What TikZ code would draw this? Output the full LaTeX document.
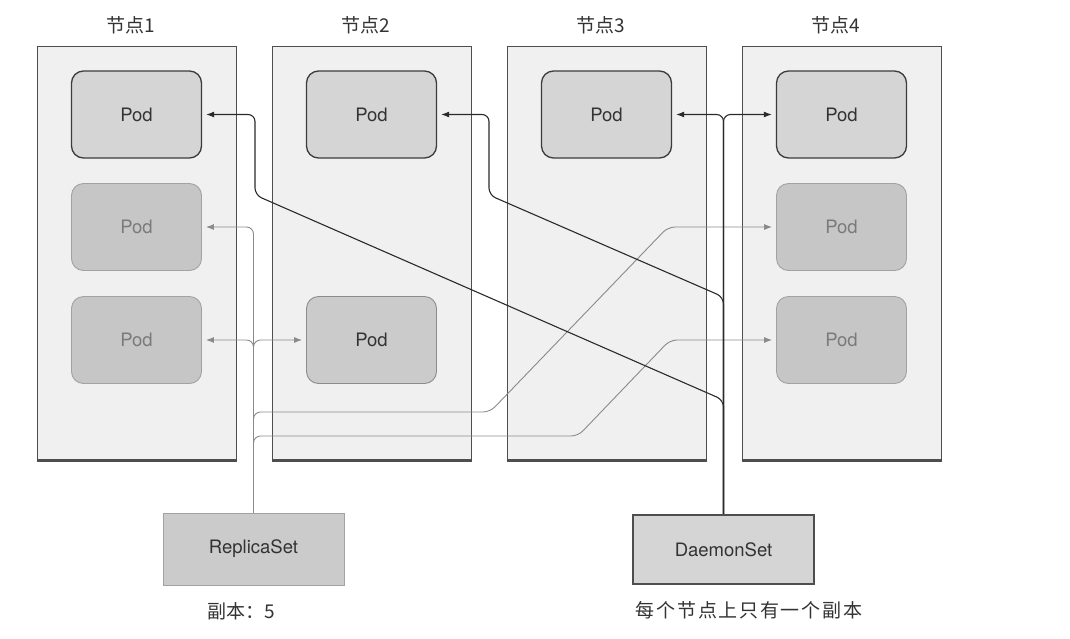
\documentclass[tikz,border=0pt]{standalone}
\usepackage{fontspec}
\setmainfont{TeX Gyre Heros}
\newfontfamily\cjk{Noto Sans CJK SC}
\newfontfamily\cjkwide[LetterSpace=9]{Noto Sans CJK SC}
\usepackage{tikz}
\usetikzlibrary{arrows.meta}
\definecolor{boxfill}{HTML}{F0F0F0}
\definecolor{boxdraw}{HTML}{4E4E4E}
\definecolor{dspodfill}{HTML}{D5D5D5}
\definecolor{dspoddraw}{HTML}{3C3C3C}
\definecolor{rspodfill}{HTML}{CBCBCB}
\definecolor{rspoddraw}{HTML}{8C8C8C}
\definecolor{grainfill}{HTML}{C6C6C6}
\definecolor{graindraw}{HTML}{A2A2A2}
\definecolor{graintext}{HTML}{7A7A7A}
\definecolor{dsline}{HTML}{2A2A2A}
\definecolor{rsline}{HTML}{8A8A8A}
\definecolor{labeltext}{HTML}{333333}

\begin{document}
\begin{tikzpicture}[x=1pt,y=-1pt,-{Latex[length=8pt,width=6pt]},
      every node/.append style={font=\fontsize{18.5}{20}\selectfont,text=labeltext},
      dsline/.style={color=dsline,line width=1.1pt,rounded corners=7pt,shorten >=4pt},
      rsline/.style={color=rsline,line width=0.9pt,rounded corners=7pt,shorten >=4pt}]
    \tikzstyle{nodebox} = [draw=boxdraw,fill=boxfill,line width=1pt,minimum width=199pt,minimum height=414pt]
    \tikzstyle{nodename} = [font=\cjk\fontsize{19}{22}\selectfont]
    \tikzstyle{dspod} = [draw=dspoddraw,fill=dspodfill,line width=1.3pt,rounded corners=12pt,minimum width=130pt,minimum height=87pt]
    \tikzstyle{rspod} = [draw=rspoddraw,fill=rspodfill,line width=0.9pt,rounded corners=12pt,minimum width=130pt,minimum height=87pt]
    \tikzstyle{grainpod} = [draw=graindraw,fill=grainfill,line width=0.9pt,rounded corners=12pt,minimum width=130pt,minimum height=87pt,text=graintext]
    \tikzstyle{bottomedge} = [-,draw=boxdraw,line width=3pt]
    \useasboundingbox (0,0) rectangle (1070,638);

    \node (n1) [nodebox] at (136.5,253) {};
    \node (n2) [nodebox] at (371.5,253) {};
    \node (n3) [nodebox] at (606.5,253) {};
    \node (n4) [nodebox] at (841.5,253) {};
    \draw [bottomedge] (n1.south west) -- (n1.south east);
    \draw [bottomedge] (n2.south west) -- (n2.south east);
    \draw [bottomedge] (n3.south west) -- (n3.south east);
    \draw [bottomedge] (n4.south west) -- (n4.south east);
    \node (name1) [nodename] at (131,25) {节点1};
    \node (name2) [nodename] at (366,25) {节点2};
    \node (name3) [nodename] at (601,25) {节点3};
    \node (name4) [nodename] at (836,25) {节点4};

    \node (d1) [dspod] at (136.5,114.5) {Pod};
    \node (d2) [dspod] at (371.5,114.5) {Pod};
    \node (d3) [dspod] at (606.5,114.5) {Pod};
    \node (d4) [dspod] at (841.5,114.5) {Pod};
    \node (r1) [grainpod] at (136.5,227) {Pod};
    \node (r2) [grainpod] at (136.5,340) {Pod};
    \node (r3) [rspod] at (371.5,340) {Pod};
    \node (r4) [grainpod] at (841.5,227) {Pod};
    \node (r5) [grainpod] at (841.5,340) {Pod};

    \node (rs) [draw=graindraw,fill=rspodfill,line width=0.8pt,minimum width=181pt,minimum height=72pt] at (253.5,549) {ReplicaSet};
    \node (ds) [draw=boxdraw,fill=dspodfill,line width=2.4pt,minimum width=181pt,minimum height=69pt] at (723.5,549.5) {DaemonSet};
    \node (rsnote) [nodename] at (241,611) {副本：5};
    \node (dsnote) [font=\cjkwide\fontsize{19}{22}\selectfont] at (749,610) {每个节点上只有一个副本};

    \draw [rsline] (rs.north) |- (r1.east);
    \draw [rsline] (rs.north) |- (r2.east);
    \draw [rsline] (rs.north) |- (r3.west);
    \draw [rsline] (rs.north) |- (490,412) -- (668,227) -- (r4.west);
    \draw [rsline] (rs.north) |- (578,436) -- (670,340) -- (r5.west);

    \draw [dsline] (ds.north) |- (d3.east);
    \draw [dsline] (ds.north) |- (d4.west);
    \draw [dsline] (ds.north) -- (723.5,297) -- (489,195) |- (d2.east);
    \draw [dsline] (ds.north) -- (723.5,400) -- (255,195) |- (d1.east);
  \end{tikzpicture}
\end{document}
